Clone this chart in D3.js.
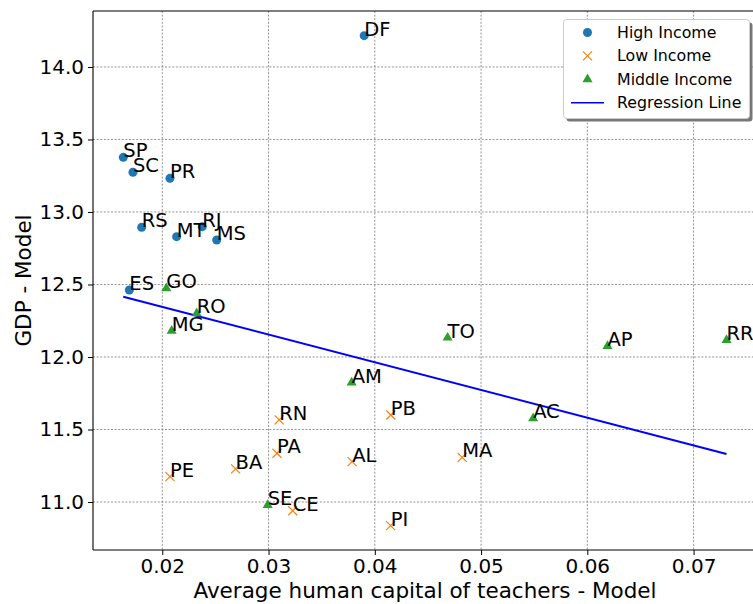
<!DOCTYPE html>
<html><head><meta charset="utf-8">
<script src="https://cdn.jsdelivr.net/npm/d3@7"></script>
<style>body{margin:0;background:#fff} svg{display:block;font-family:"DejaVu Sans",sans-serif}</style>
</head><body><svg id="c" width="753" height="604"></svg>
<script>
// ---- data ----
const highLabels = ["DF","SP","SC","PR","RS","MT","RJ","MS","ES"];
const highX = [0.0390,0.01633,0.01724,0.02072,0.01806,0.02135,0.02376,0.02512,0.0169];
const highY = [14.216,13.377,13.274,13.232,12.894,12.830,12.899,12.807,12.462];

const lowLabels = ["RN","PA","PE","BA","AL","CE","PB","MA","PI"];
const lowX = [0.0310,0.03079,0.02072,0.02690,0.03787,0.03227,0.04151,0.04822,0.04149];
const lowY = [11.566,11.336,11.175,11.228,11.278,10.940,11.600,11.308,10.837];

const midLabels = ["GO","RO","MG","AM","TO","AP","RR","AC","SE"];
const midX = [0.02038,0.02324,0.02088,0.03782,0.04685,0.0619,0.0731,0.0549,0.02992];
const midY = [12.474,12.301,12.181,11.823,12.133,12.076,12.117,11.577,10.979];

const regX = [0.01633,0.0731];
const regY = [12.416,11.331];

const xTicks = [0.02,0.03,0.04,0.05,0.06,0.07];
const yTicks = [11.0,11.5,12.0,12.5,13.0,13.5,14.0];
const legendLabels = ["High Income","Low Income","Middle Income","Regression Line"];

// ---- layout ----
const svg = d3.select("#c");
const L = 93, R = 760, T = 11, B = 550;
const x = d3.scaleLinear().domain([0.01348, 0.07625]).range([L, R]);
const y = d3.scaleLinear().domain([10.669, 14.386]).range([B, T]);

const cBlue = "#1f77b4", cOrange = "#ff7f0e", cGreen = "#2ca02c";

// grid
const grid = svg.append("g");
grid.selectAll("line.gx").data(xTicks).join("line")
  .attr("x1", d => x(d)).attr("x2", d => x(d)).attr("y1", T).attr("y2", B)
  .attr("stroke", "#777").attr("stroke-width", 0.8).attr("stroke-dasharray", "2,1.6");
grid.selectAll("line.gy").data(yTicks).join("line")
  .attr("y1", d => y(d)).attr("y2", d => y(d)).attr("x1", L).attr("x2", R)
  .attr("stroke", "#777").attr("stroke-width", 0.8).attr("stroke-dasharray", "2,1.6");

// axes
const xAxis = d3.axisBottom(x).tickValues(xTicks).tickFormat(d3.format(".2f")).tickSize(5).tickPadding(4);
const yAxis = d3.axisLeft(y).tickValues(yTicks).tickFormat(d3.format(".1f")).tickSize(5).tickPadding(4);
const gx = svg.append("g").attr("transform", `translate(0,${B})`).call(xAxis);
const gy = svg.append("g").attr("transform", `translate(${L},0)`).call(yAxis);
[gx, gy].forEach(g => {
  g.select(".domain").remove();
  g.selectAll("text").attr("font-size", 20).attr("font-family", "DejaVu Sans").attr("fill", "#000");
  g.selectAll("line").attr("stroke", "#000").attr("stroke-width", 1);
});

// spines
svg.append("line").attr("x1", L).attr("x2", L).attr("y1", T).attr("y2", B).attr("stroke", "#000").attr("stroke-width", 1.1);
svg.append("line").attr("x1", L).attr("x2", R).attr("y1", B).attr("y2", B).attr("stroke", "#000").attr("stroke-width", 1.1);
svg.append("line").attr("x1", L).attr("x2", R).attr("y1", T).attr("y2", T).attr("stroke", "#000").attr("stroke-width", 1.1);

// axis labels
svg.append("text").attr("x", 425).attr("y", 598).attr("text-anchor", "middle")
  .attr("font-size", 21.5).text("Average human capital of teachers - Model");
svg.append("text").attr("transform", `translate(31,${(T + B) / 2}) rotate(-90)`).attr("text-anchor", "middle")
  .attr("font-size", 21.5).text("GDP - Model");

// regression line
svg.append("path").datum(d3.zip(regX, regY))
  .attr("d", d3.line().x(d => x(d[0])).y(d => y(d[1])))
  .attr("stroke", "#0000ff").attr("stroke-width", 2).attr("fill", "none");

const tri = d3.symbol().type(d3.symbolTriangle).size(44);

// high income
const high = d3.zip(highLabels, highX, highY);
svg.append("g").selectAll("circle").data(high).join("circle")
  .attr("cx", d => x(d[1])).attr("cy", d => y(d[2])).attr("r", 4.5).attr("fill", cBlue);
// low income
const low = d3.zip(lowLabels, lowX, lowY);
const lg = svg.append("g");
low.forEach(d => {
  const cx = x(d[1]), cy = y(d[2]), s = 4.5;
  lg.append("path").attr("d", `M${cx - s},${cy - s}L${cx + s},${cy + s}M${cx - s},${cy + s}L${cx + s},${cy - s}`)
    .attr("stroke", cOrange).attr("stroke-width", 1.2).attr("fill", "none");
});
// middle income
const mid = d3.zip(midLabels, midX, midY);
svg.append("g").selectAll("path").data(mid).join("path")
  .attr("transform", d => `translate(${x(d[1])},${y(d[2])})`).attr("d", tri).attr("fill", cGreen);

// labels
svg.append("g").selectAll("text").data(high.concat(low, mid)).join("text")
  .attr("x", d => x(d[1])).attr("y", d => y(d[2])).attr("font-size", 19.5).attr("fill", "#000").text(d => d[0]);

// legend
const lgX = 563.5, lgY = 19.5, lgW = 186, lgH = 99;
svg.append("rect").attr("x", lgX + 3).attr("y", lgY + 3).attr("width", lgW).attr("height", lgH).attr("rx", 3).attr("fill", "#777");
svg.append("rect").attr("x", lgX).attr("y", lgY).attr("width", lgW).attr("height", lgH).attr("rx", 3)
  .attr("fill", "#fff").attr("stroke", "#ccc").attr("stroke-width", 1);
const rowY = i => 32.5 + i * 23.4;
const mx = 587.5;
svg.append("circle").attr("cx", mx).attr("cy", rowY(0)).attr("r", 4.5).attr("fill", cBlue);
svg.append("path").attr("d", `M${mx - 4.5},${rowY(1) - 4.5}L${mx + 4.5},${rowY(1) + 4.5}M${mx - 4.5},${rowY(1) + 4.5}L${mx + 4.5},${rowY(1) - 4.5}`)
  .attr("stroke", cOrange).attr("stroke-width", 1.2);
svg.append("path").attr("transform", `translate(${mx},${rowY(2)})`).attr("d", tri).attr("fill", cGreen);
svg.append("line").attr("x1", 571).attr("x2", 604).attr("y1", rowY(3)).attr("y2", rowY(3)).attr("stroke", "#0000ff").attr("stroke-width", 1.5);
svg.append("g").selectAll("text").data(legendLabels).join("text")
  .attr("x", 617).attr("y", (d, i) => rowY(i) + 5.5).attr("font-size", 15.8).attr("fill", "#000").text(d => d);
</script></body></html>
